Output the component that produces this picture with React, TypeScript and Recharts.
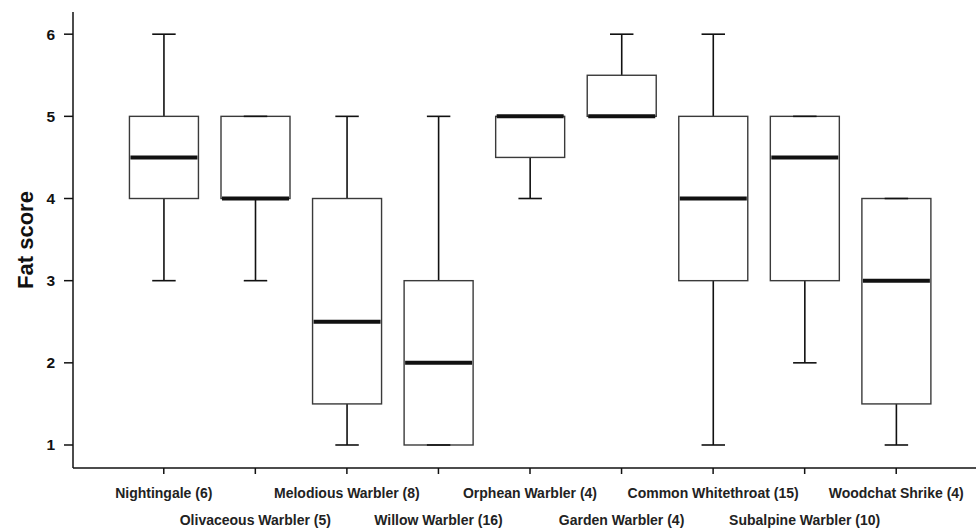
import { ComposedChart, Bar, XAxis, YAxis } from "recharts";

// fat score distribution per species (sample size in brackets)
const species = [
  "Nightingale (6)",
  "Olivaceous Warbler (5)",
  "Melodious Warbler (8)",
  "Willow Warbler (16)",
  "Orphean Warbler (4)",
  "Garden Warbler (4)",
  "Common Whitethroat (15)",
  "Subalpine Warbler (10)",
  "Woodchat Shrike (4)",
];
const minScore = [3, 3, 1, 1, 4, 5, 1, 2, 1];
const q1Score = [4, 4, 1.5, 1, 4.5, 5, 3, 3, 1.5];
const medianScore = [4.5, 4, 2.5, 2, 5, 5, 4, 4.5, 3];
const q3Score = [5, 5, 4, 3, 5, 5.5, 5, 5, 4];
const maxScore = [6, 5, 5, 5, 5, 6, 6, 5, 4];
const yTicks = [1, 2, 3, 4, 5, 6];

const data = species.map((name, i) => ({
  name,
  min: minScore[i],
  q1: q1Score[i],
  median: medianScore[i],
  q3: q3Score[i],
  max: maxScore[i],
  range: [minScore[i], maxScore[i]],
}));

const font = "'Liberation Sans', Arial, Helvetica, sans-serif";

function BoxShape(props: any) {
  const { x, y, width, height, payload } = props;
  const top = Math.min(y, y + height);
  const bottom = Math.max(y, y + height);
  const span = payload.max - payload.min;
  const py = (v: number) => bottom - ((v - payload.min) / span) * (bottom - top);
  const cx = x + width / 2;
  const cap = width * 0.17;
  return (
    <g>
      <line x1={cx} x2={cx} y1={py(payload.max)} y2={py(payload.q3)} stroke="#111" strokeWidth={1.6} />
      <line x1={cx} x2={cx} y1={py(payload.q1)} y2={py(payload.min)} stroke="#111" strokeWidth={1.6} />
      <rect
        x={x}
        y={py(payload.q3)}
        width={width}
        height={py(payload.q1) - py(payload.q3)}
        fill="#fff"
        stroke="#3a3a3a"
        strokeWidth={1.4}
      />
      <line x1={x + 1} x2={x + width - 1} y1={py(payload.median)} y2={py(payload.median)} stroke="#111" strokeWidth={4} />
      <line x1={cx - cap} x2={cx + cap} y1={py(payload.max)} y2={py(payload.max)} stroke="#111" strokeWidth={1.6} />
      <line x1={cx - cap} x2={cx + cap} y1={py(payload.min)} y2={py(payload.min)} stroke="#111" strokeWidth={1.6} />
    </g>
  );
}

function SpeciesTick(props: any) {
  const { x, y, payload, index } = props;
  const row = index % 2;
  return (
    <text
      x={x}
      y={y + (row ? 44 : 17)}
      textAnchor="middle"
      dominantBaseline="central"
      fontFamily={font}
      fontWeight="bold"
      fontSize={14}
      fill="#222"
    >
      {payload.value}
    </text>
  );
}

export default function App() {
  return (
    <div style={{ position: "absolute", left: 0, top: 0 }}>
      <ComposedChart
        width={976}
        height={528}
        data={data}
        margin={{ top: 12, right: 0, bottom: 0, left: 0 }}
        barCategoryGap="12.5%"
      >
        <XAxis
          dataKey="name"
          interval={0}
          height={60}
          padding={{ left: 45, right: 34 }}
          tick={<SpeciesTick />}
          tickSize={6}
          stroke="#111"
          strokeWidth={1.5}
        />
        <YAxis
          width={73}
          domain={[0.72, 6.27]}
          ticks={yTicks}
          type="number"
          tickSize={9}
          tickMargin={9}
          stroke="#111"
          strokeWidth={1.5}
          tick={{ fontFamily: font, fontWeight: "bold", fontSize: 15.5, fill: "#111" }}
          label={{
            value: "Fat score",
            angle: -90,
            position: "insideLeft",
            offset: 25,
            style: { textAnchor: "middle", fontFamily: font, fontWeight: "bold", fontSize: 22, fill: "#111" },
          }}
        />
        <Bar dataKey="range" shape={<BoxShape />} isAnimationActive={false} />
      </ComposedChart>
    </div>
  );
}
